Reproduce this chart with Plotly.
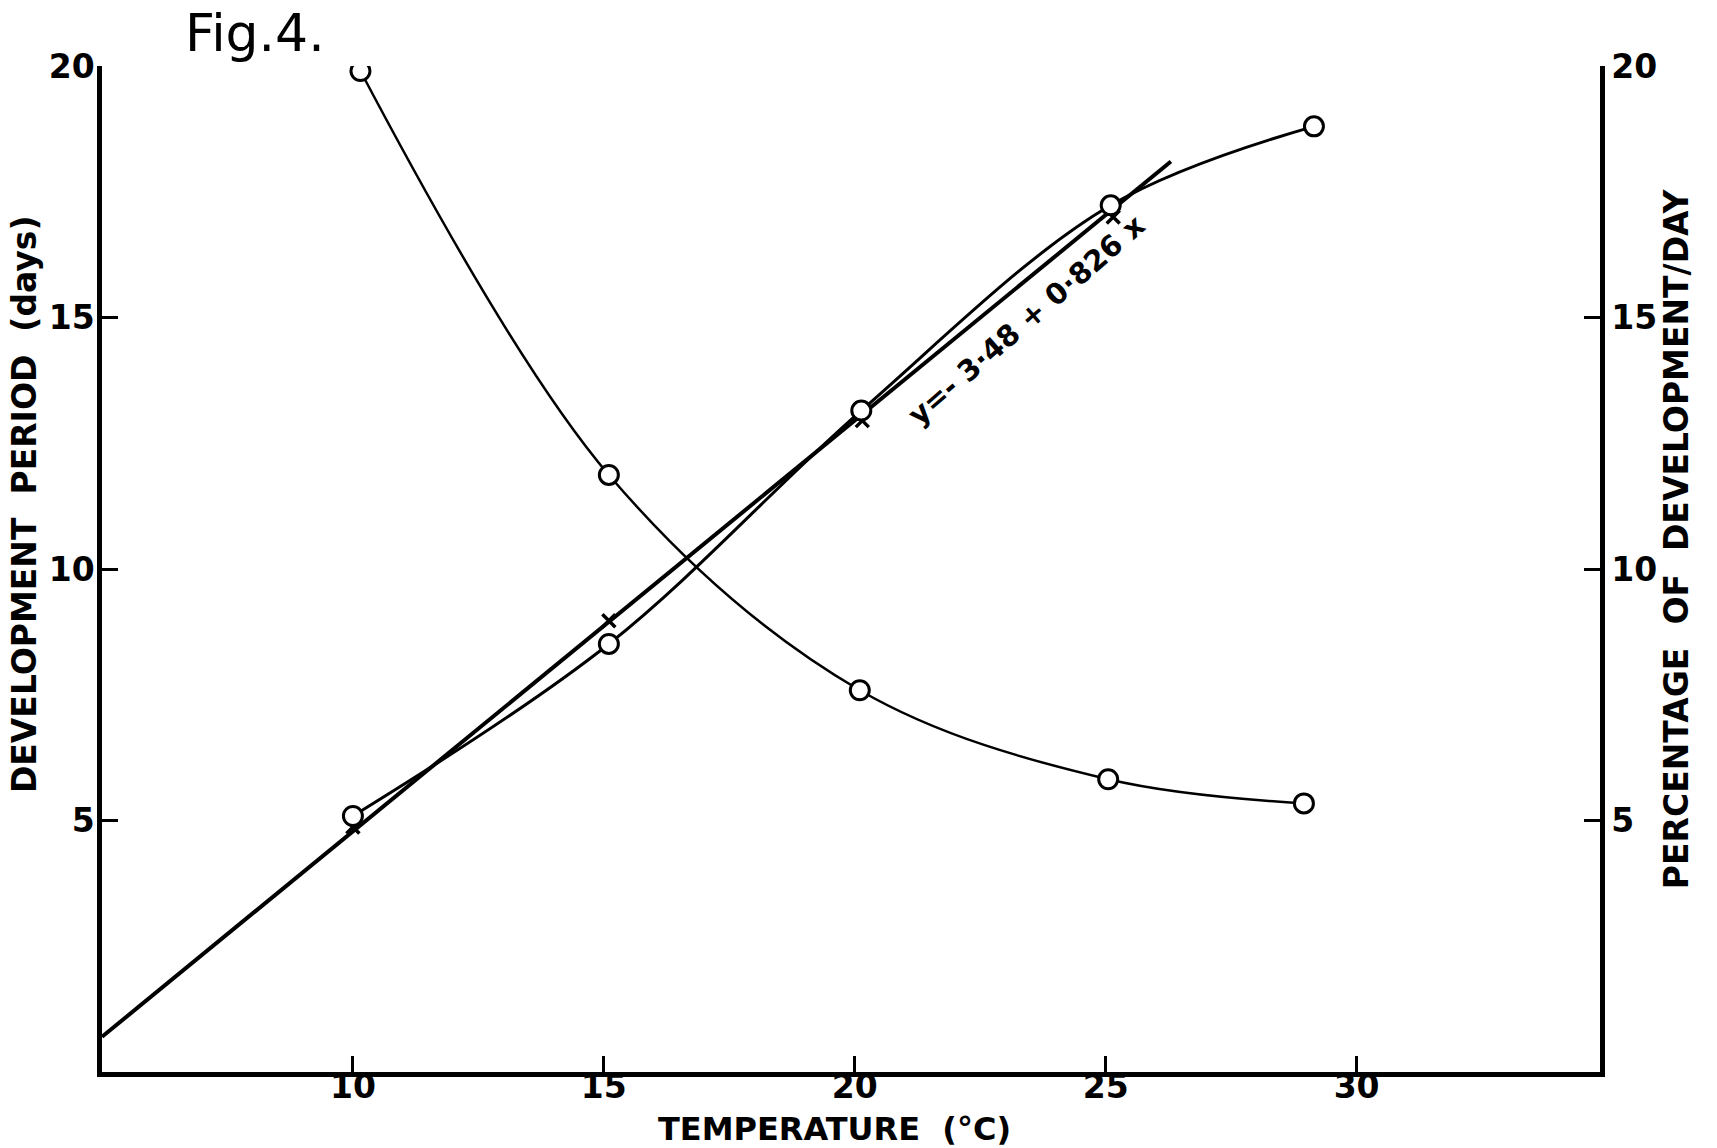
import plotly.graph_objects as go

# Temperature (°C)
temp_period = [10.15, 15.1, 20.1, 25.05, 28.95]
period_days = [19.9, 11.87, 7.59, 5.82, 5.34]          # development period (days), left axis

temp_rate = [10.0, 15.1, 20.13, 25.1, 29.15]
rate_pct = [5.09, 8.51, 13.15, 17.23, 18.8]            # % development / day, right axis

temp_cross = [10.0, 15.1, 20.15, 25.15]
cross_pct = [4.87, 8.97, 12.95, 17.0]

reg_x = [5.0, 26.3]
reg_y = [0.7, 18.1]                                     # y = -3.48 + 0.826x (as drawn)

x_ticks = [10, 15, 20, 25, 30]
y_ticks = [5, 10, 15, 20]

FONT = "DejaVu Sans"
BLACK = "black"

fig = go.Figure()

fig.add_trace(go.Scatter(x=reg_x, y=reg_y, mode="lines", yaxis="y2",
                         line=dict(color=BLACK, width=4), showlegend=False))
fig.add_trace(go.Scatter(x=temp_period, y=period_days, mode="lines",
                         line=dict(color=BLACK, width=2.5, shape="spline", smoothing=1.0),
                         showlegend=False))
fig.add_trace(go.Scatter(x=temp_rate, y=rate_pct, mode="lines", yaxis="y2",
                         line=dict(color=BLACK, width=3, shape="spline", smoothing=1.0),
                         showlegend=False))
fig.add_trace(go.Scatter(x=temp_cross, y=cross_pct, mode="markers", yaxis="y2",
                         marker=dict(symbol="x-thin-open", size=13, color=BLACK,
                                     line=dict(color=BLACK, width=3.5)),
                         showlegend=False))
fig.add_trace(go.Scatter(x=temp_period, y=period_days, mode="markers",
                         marker=dict(symbol="circle", size=19, color="white",
                                     line=dict(color=BLACK, width=3)),
                         showlegend=False))
fig.add_trace(go.Scatter(x=temp_rate, y=rate_pct, mode="markers", yaxis="y2",
                         marker=dict(symbol="circle", size=19, color="white",
                                     line=dict(color=BLACK, width=3)),
                         showlegend=False))

tickfont = dict(family=FONT, size=33, color=BLACK, weight="bold")
axis_common = dict(showgrid=False, zeroline=False, showline=True, linecolor=BLACK,
                   linewidth=4.5, ticks="inside", ticklen=16, tickwidth=3, tickcolor=BLACK,
                   tickfont=tickfont)

fig.update_layout(
    width=1717, height=1148,
    margin=dict(l=102, r=117, t=66, b=76),
    paper_bgcolor="white", plot_bgcolor="white",
    xaxis=dict(range=[5, 34.85], tickvals=x_ticks, ticktext=[str(v) for v in x_ticks],
               ticklabelstandoff=-18, **axis_common),
    yaxis=dict(range=[0, 20], tickvals=y_ticks, ticktext=[str(v) for v in y_ticks],
               ticklabelstandoff=-4, **axis_common),
    yaxis2=dict(range=[0, 20], tickvals=y_ticks, ticktext=[str(v) for v in y_ticks],
                overlaying="y", side="right", anchor="x",
                ticklabelstandoff=0, **axis_common),
)

def ann(text, x, y, size, angle=0, bold=True):
    fig.add_annotation(text=text, x=x, y=y, xref="paper", yref="paper",
                       showarrow=False, textangle=angle, xanchor="center", yanchor="middle",
                       font=dict(family=FONT, size=size, color=BLACK,
                                 weight="bold" if bold else "normal"))

ann("DEVELOPMENT  PERIOD  (days)", -0.052, 0.5646, 33, -90)
ann("PERCENTAGE  OF  DEVELOPMENT/DAY", 1.051, 0.530, 33, -90)
ann("TEMPERATURE  (°C)", 0.4887, -0.057, 32)
ann("Fig.4.", 0.1021, 1.0328, 52, bold=False)
ann("y=- 3·48 + 0·826 x", 0.617, 0.748, 29, -41)

fig.write_html("out.html")
